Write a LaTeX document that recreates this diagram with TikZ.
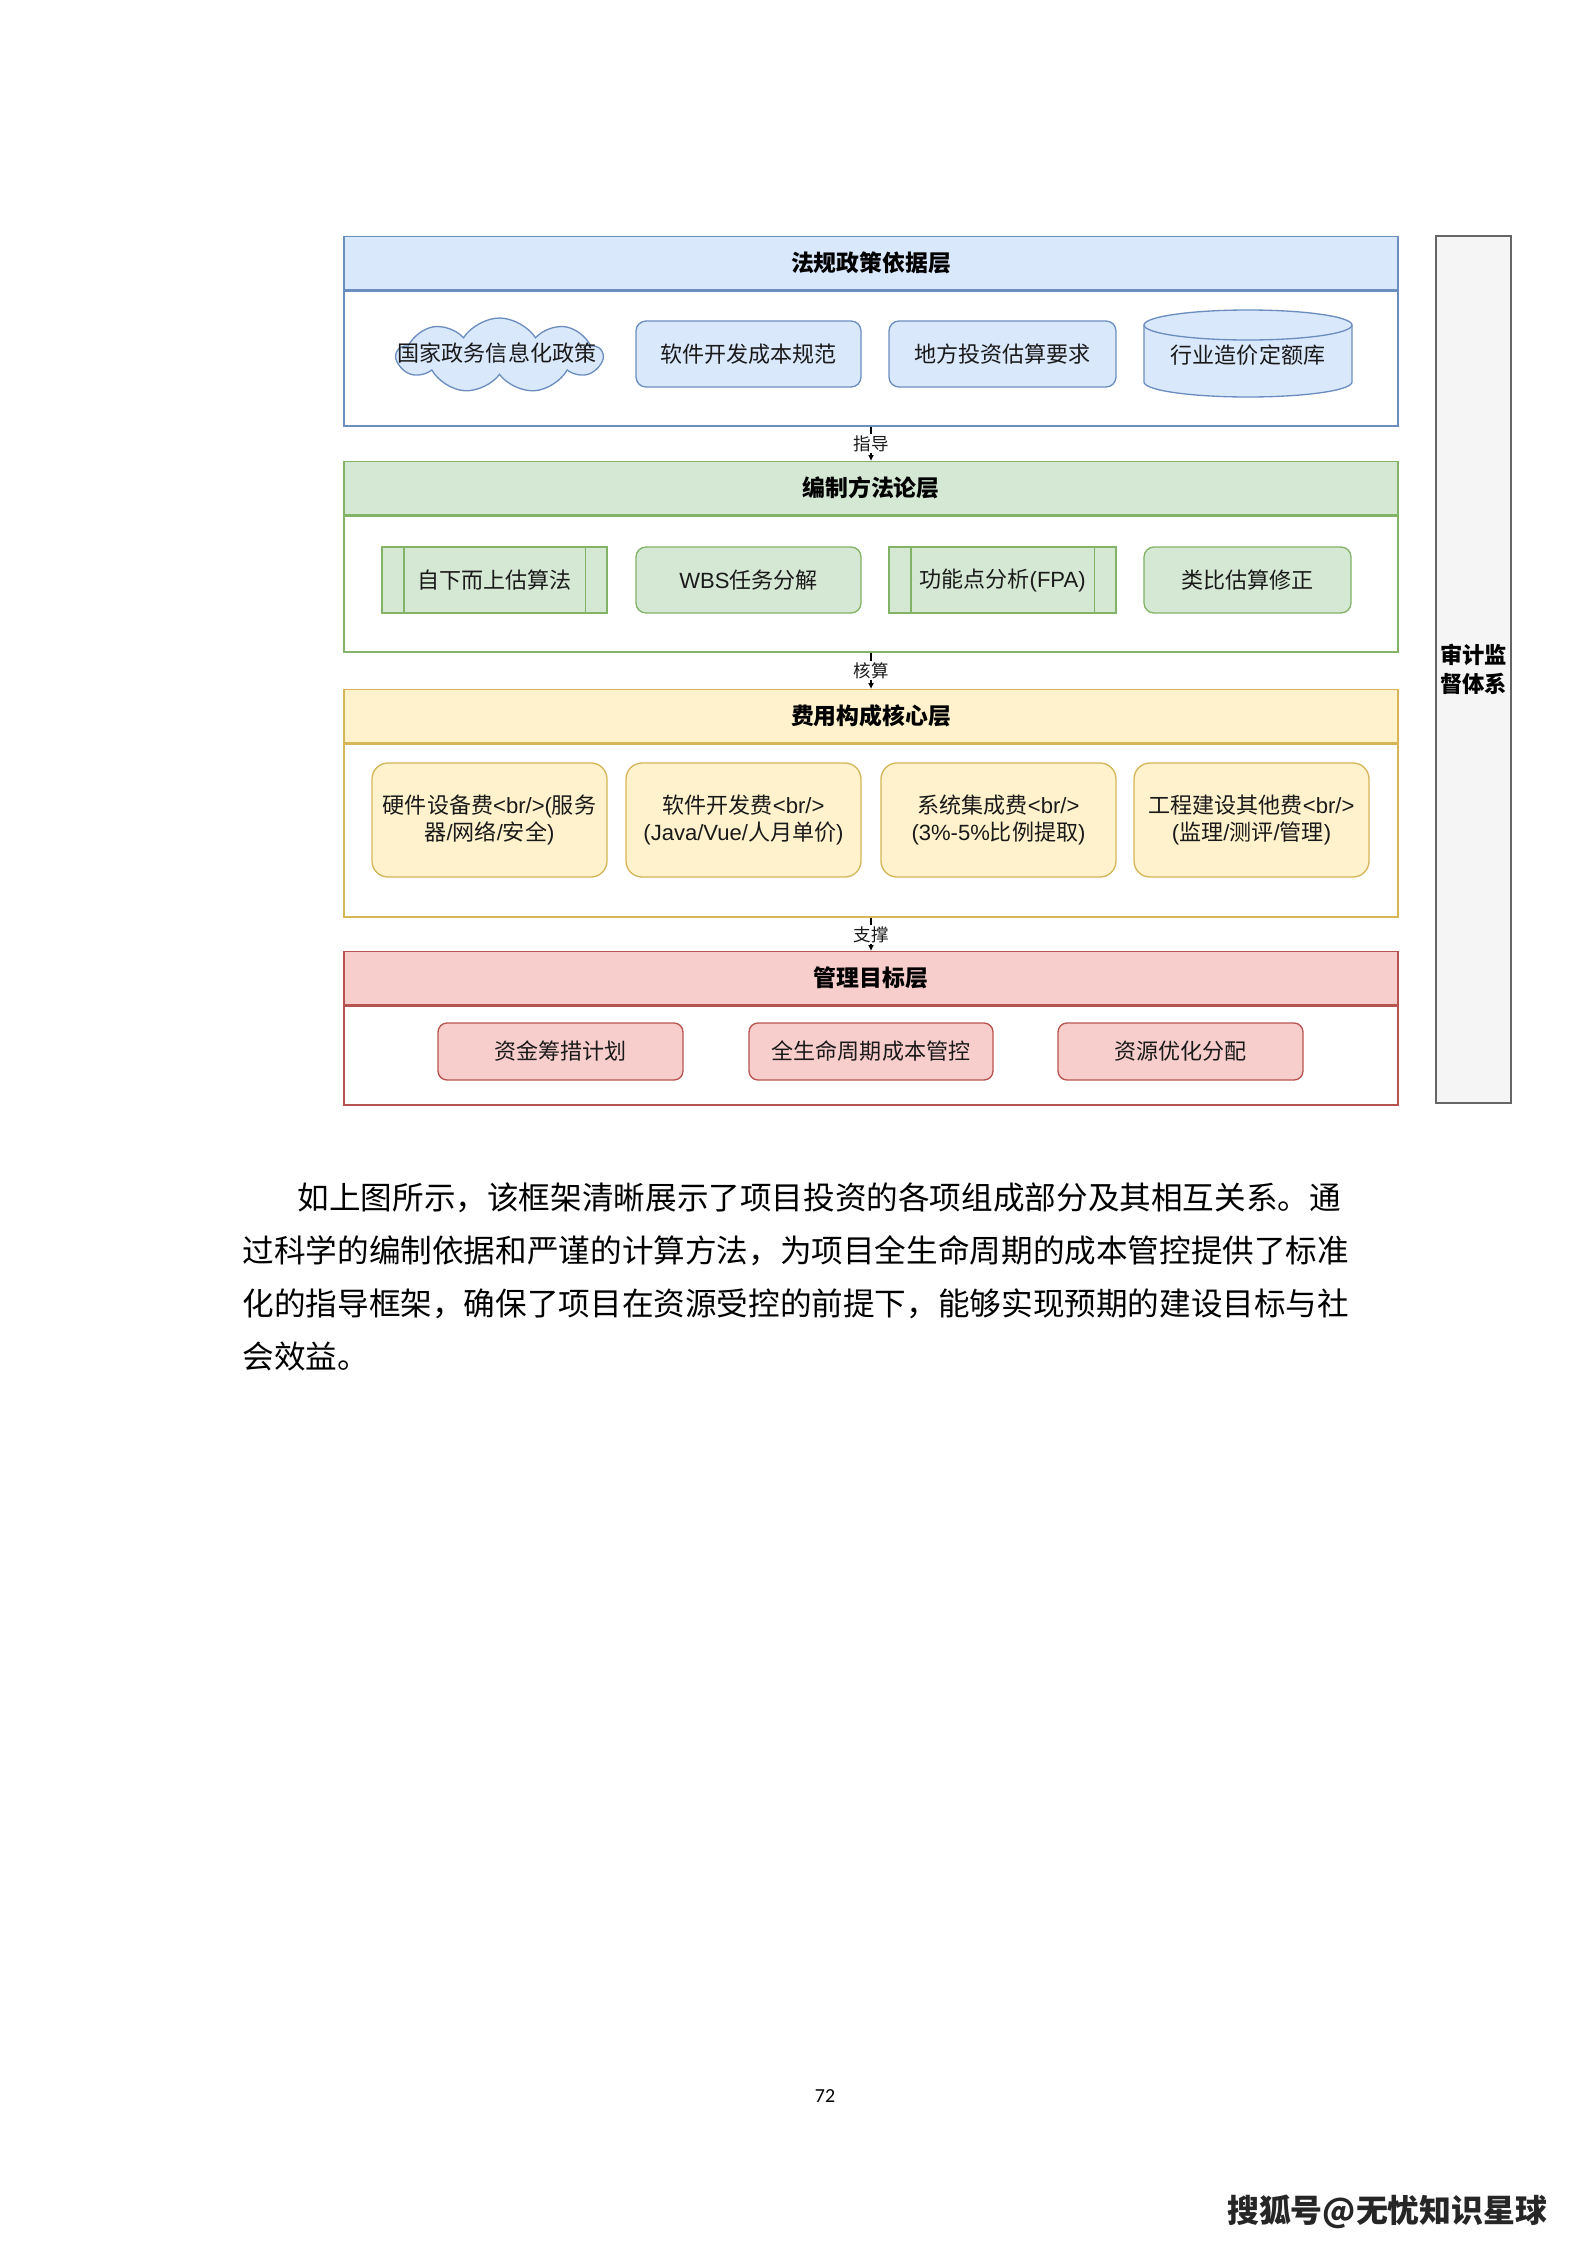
\documentclass[tikz,border=0pt]{standalone}
\usepackage{fontspec}
\setmainfont{Noto Sans CJK SC}
\newfontfamily\lat{Liberation Sans}
\newfontfamily\carl{Carlito}
\usetikzlibrary{shapes.symbols,arrows.meta}
\newlength{\pxu}\setlength{\pxu}{0.013233cm}
\definecolor{bfill}{HTML}{DAE8FC}\definecolor{bstroke}{HTML}{6C8EBF}
\definecolor{gfill}{HTML}{D5E8D4}\definecolor{gstroke}{HTML}{82B366}
\definecolor{yfill}{HTML}{FFF2CC}\definecolor{ystroke}{HTML}{D6B656}
\definecolor{rfill}{HTML}{F8CECC}\definecolor{rstroke}{HTML}{B85450}
\definecolor{afill}{HTML}{F5F5F5}\definecolor{astroke}{HTML}{666666}
\definecolor{txtc}{HTML}{1A1A1A}
\begin{document}
\begin{tikzpicture}[x=\pxu,y=-\pxu,line width=0.5pt,
  hdr/.style={draw, minimum width=1054\pxu, minimum height=53\pxu, anchor=north, inner sep=0pt,
    font=\fontsize{8.6pt}{10pt}\selectfont\bfseries, text=black},
  body/.style={draw, fill=white, minimum width=1054\pxu, anchor=north, inner sep=0pt},
  txt/.style={font=\fontsize{8.3pt}{10pt}\selectfont, text=txtc, align=center, inner sep=0pt},
  conn/.style={draw=black, line width=0.7pt, -{Latex[length=2.2pt,width=2.2pt]}},
  lab/.style={fill=white, inner sep=0.5pt, font=\fontsize{6.6pt}{7pt}\selectfont, text=txtc},
  para/.style={anchor=west, inner sep=0pt, font=\fontsize{11.9pt}{14pt}\selectfont, text=black}
]
\useasboundingbox[fill=white] (0,0) rectangle (1587,2245);

% ---------- Layer 1 ----------
\node[hdr, draw=bstroke, fill=bfill] (L1h) at (871,236) {法规政策依据层};
\node[body, draw=bstroke, minimum height=135\pxu] (L1) at (L1h.south) {};
\node[cloud, cloud puffs=9, cloud puff arc=115, cloud ignores aspect, draw=bstroke, fill=bfill,
  minimum width=205\pxu, minimum height=75\pxu, inner sep=0pt] (b1) at (499.5,355.5) {};
\node[txt] (b1t) at (497,353) {国家政务信息化政策};
\node[txt, draw=bstroke, fill=bfill, rounded corners=10\pxu, minimum width=225\pxu, minimum height=66\pxu] (b2) at (748.5,354) {软件开发成本规范};
\node[txt, draw=bstroke, fill=bfill, rounded corners=10\pxu, minimum width=227\pxu, minimum height=66\pxu] (b3) at (1002.5,354) {地方投资估算要求};
\draw[draw=bstroke, fill=bfill] (1144,325) -- (1144,382)
  arc[start angle=180, end angle=360, x radius=104\pxu, y radius=15\pxu] -- (1352,325)
  arc[start angle=0, end angle=180, x radius=104\pxu, y radius=15\pxu] -- cycle;
\draw[draw=bstroke] (1144,325) arc[start angle=180, end angle=360, x radius=104\pxu, y radius=15\pxu];
\node[txt] (b4) at (1248,355) {行业造价定额库};

% ---------- Layer 2 ----------
\node[hdr, draw=gstroke, fill=gfill] (L2h) at (871,461) {编制方法论层};
\node[body, draw=gstroke, minimum height=136\pxu] (L2) at (L2h.south) {};
\node[txt, draw=gstroke, fill=gfill, minimum width=225\pxu, minimum height=66\pxu] (g1) at (494.5,580) {自下而上估算法};
\draw[gstroke] ([xshift=22.5\pxu]g1.north west) -- ([xshift=22.5\pxu]g1.south west);
\draw[gstroke] ([xshift=-22.5\pxu]g1.north east) -- ([xshift=-22.5\pxu]g1.south east);
\node[txt, draw=gstroke, fill=gfill, rounded corners=10\pxu, minimum width=225\pxu, minimum height=66\pxu] (g2) at (748.5,580) {{\lat WBS}任务分解};
\node[txt, draw=gstroke, fill=gfill, minimum width=227\pxu, minimum height=66\pxu] (g3) at (1002.5,580) {功能点分析{\lat (FPA)}};
\draw[gstroke] ([xshift=22.5\pxu]g3.north west) -- ([xshift=22.5\pxu]g3.south west);
\draw[gstroke] ([xshift=-22.5\pxu]g3.north east) -- ([xshift=-22.5\pxu]g3.south east);
\node[txt, draw=gstroke, fill=gfill, rounded corners=10\pxu, minimum width=207\pxu, minimum height=66\pxu] (g4) at (1247.5,580) {类比估算修正};

% ---------- Layer 3 ----------
\node[hdr, draw=ystroke, fill=yfill] (L3h) at (871,689) {费用构成核心层};
\node[body, draw=ystroke, minimum height=173\pxu] (L3) at (L3h.south) {};
\node[txt, draw=ystroke, fill=yfill, rounded corners=16\pxu, minimum width=235\pxu, minimum height=114\pxu] (y1) at (489.5,820)
  {硬件设备费{\lat <br/>(}服务\\器{\lat /}网络{\lat /}安全{\lat )}};
\node[txt, draw=ystroke, fill=yfill, rounded corners=16\pxu, minimum width=235\pxu, minimum height=114\pxu] (y2) at (743.5,820)
  {软件开发费{\lat <br/>}\\{\lat (Java/Vue/}人月单价{\lat )}};
\node[txt, draw=ystroke, fill=yfill, rounded corners=16\pxu, minimum width=235\pxu, minimum height=114\pxu] (y3) at (998.5,820)
  {系统集成费{\lat <br/>}\\{\lat (3\%-5\%}比例提取{\lat )}};
\node[txt, draw=ystroke, fill=yfill, rounded corners=16\pxu, minimum width=235\pxu, minimum height=114\pxu] (y4) at (1251.5,820)
  {工程建设其他费{\lat <br/>}\\{\lat (}监理{\lat /}测评{\lat /}管理{\lat )}};

% ---------- Layer 4 ----------
\node[hdr, draw=rstroke, fill=rfill] (L4h) at (871,951) {管理目标层};
\node[body, draw=rstroke, minimum height=99\pxu] (L4) at (L4h.south) {};
\node[txt, draw=rstroke, fill=rfill, rounded corners=9\pxu, minimum width=245\pxu, minimum height=57\pxu] (r1) at (560.5,1051.5) {资金筹措计划};
\node[txt, draw=rstroke, fill=rfill, rounded corners=9\pxu, minimum width=244\pxu, minimum height=57\pxu] (r2) at (871,1051.5) {全生命周期成本管控};
\node[txt, draw=rstroke, fill=rfill, rounded corners=9\pxu, minimum width=245\pxu, minimum height=57\pxu] (r3) at (1180.5,1051.5) {资源优化分配};

% ---------- Audit ----------
\node[draw=astroke, fill=afill, line width=0.8pt, minimum width=75\pxu, minimum height=867\pxu, inner sep=0pt,
  align=center, font=\fontsize{8.4pt}{10.9pt}\selectfont\bfseries] (au) at (1473.5,669.5) {审计监\\督体系};

% ---------- Connectors ----------
\draw[conn] (L1.south) -- node[lab] (c1) {指导} (L2h.north);
\draw[conn] (L2.south) -- node[lab] (c2) {核算} (L3h.north);
\draw[conn] (L3.south) -- node[lab] (c3) {支撑} (L4h.north);

% ---------- Paragraph ----------
\node[para] (p1) at (297,1198) {如上图所示，该框架清晰展示了项目投资的各项组成部分及其相互关系。通};
\node[para] (p2) at (242,1251) {过科学的编制依据和严谨的计算方法，为项目全生命周期的成本管控提供了标准};
\node[para] (p3) at (242,1304) {化的指导框架，确保了项目在资源受控的前提下，能够实现预期的建设目标与社};
\node[para] (p4) at (242,1356) {会效益。};

\node[font=\carl\fontsize{7.5pt}{9pt}\selectfont, inner sep=0pt] (pg) at (825,2096) {72};
\node[anchor=east, inner sep=0pt, font=\fontsize{12pt}{14pt}\selectfont\bfseries, text=black!85] (sohu) at (1548,2212) {搜狐号@无忧知识星球};
\end{tikzpicture}
\end{document}
